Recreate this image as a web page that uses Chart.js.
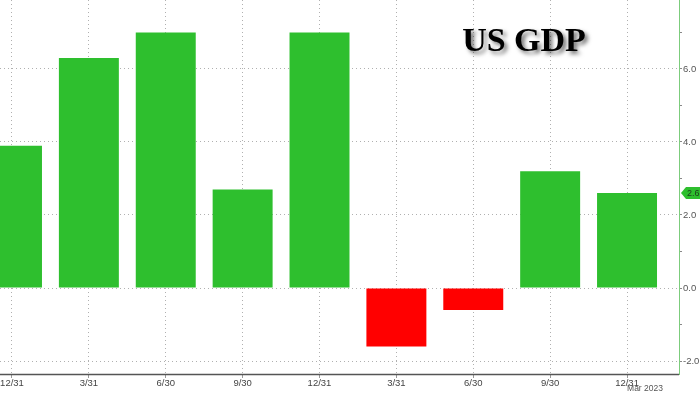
<!DOCTYPE html>
<html>
<head>
<meta charset="utf-8">
<script src="https://cdn.jsdelivr.net/npm/chart.js@4"></script>
<style>
  html, body { margin: 0; padding: 0; background: #fff; }
  #wrap { width: 700px; height: 394px; position: relative; }
</style>
</head>
<body>
<div id="wrap"><canvas id="gdpChart" width="700" height="394"></canvas></div>
<script>
// quarter end labels, Q4 2020 .. Q4 2022
var quarters = ['12/31', '3/31', '6/30', '9/30', '12/31', '3/31', '6/30', '9/30', '12/31'];
// annualized real GDP growth, %
var gdpGrowth = [3.9, 6.3, 7.0, 2.7, 7.0, -1.6, -0.6, 3.2, 2.6];
var yTicks = [-2, 0, 2, 4, 6];
var chartTitle = 'US GDP';
var dateNote = 'Mar 2023';

var green = 'rgb(46, 191, 46)';
var red = 'rgb(255, 0, 0)';

var points = [];
for (let i = 0; i < gdpGrowth.length; i++) {
    points.push({ x: i, y: gdpGrowth[i] });
}

var extras = {
    id: 'extras',
    afterDraw: function(chart) {
        const ctx = chart.ctx;
        const yScale = chart.scales.y;
        const area = chart.chartArea;
        ctx.save();
        // solid axis lines
        ctx.lineWidth = 1.5;
        ctx.strokeStyle = '#555';
        ctx.beginPath();
        ctx.moveTo(area.left, area.bottom + 0.5);
        ctx.lineTo(area.right, area.bottom + 0.5);
        ctx.stroke();
        ctx.lineWidth = 1;
        ctx.strokeStyle = '#7ccc7c';
        ctx.beginPath();
        ctx.moveTo(area.right + 0.5, area.top);
        ctx.lineTo(area.right + 0.5, area.bottom + 1);
        ctx.stroke();
        // last value tag on the right axis
        const last = gdpGrowth[gdpGrowth.length - 1];
        const ty = Math.round(yScale.getPixelForValue(last));
        const tx = area.right + 2;
        ctx.fillStyle = green;
        ctx.beginPath();
        ctx.moveTo(tx, ty);
        ctx.lineTo(tx + 5, ty - 6);
        ctx.lineTo(700, ty - 6);
        ctx.lineTo(700, ty + 6);
        ctx.lineTo(tx + 5, ty + 6);
        ctx.closePath();
        ctx.fill();
        ctx.fillStyle = '#1d3d1d';
        ctx.font = '9px "Liberation Sans"';
        ctx.textBaseline = 'middle';
        ctx.textAlign = 'left';
        ctx.fillText(last.toFixed(1), tx + 6, ty + 1);
        // date note under the axis
        ctx.fillStyle = '#555';
        ctx.font = '8.5px "Liberation Sans"';
        ctx.textAlign = 'center';
        ctx.fillText(dateNote, 645, 389);
        // title with shadow
        ctx.font = 'bold 34px "Liberation Serif"';
        ctx.textAlign = 'center';
        ctx.textBaseline = 'alphabetic';
        ctx.shadowColor = 'rgba(0,0,0,0.55)';
        ctx.shadowBlur = 4;
        ctx.shadowOffsetX = 3;
        ctx.shadowOffsetY = 3;
        ctx.fillStyle = '#000';
        ctx.fillText(chartTitle, 524, 51);
        ctx.restore();
    }
};

new Chart(document.getElementById('gdpChart'), {
    type: 'bar',
    data: {
        datasets: [{
            data: points,
            backgroundColor: function(c) {
                return c.raw && c.raw.y < 0 ? red : green;
            },
            borderWidth: 0,
            barPercentage: 0.78,
            categoryPercentage: 1
        }]
    },
    options: {
        responsive: false,
        devicePixelRatio: 1,
        animation: false,
        layout: { padding: 0 },
        plugins: {
            legend: { display: false },
            tooltip: { enabled: false }
        },
        scales: {
            x: {
                type: 'linear',
                min: -0.156,
                max: 8.676,
                offset: false,
                border: { display: false, dash: [1, 3] },
                grid: {
                    offset: false,
                    color: '#b0b0b0',
                    tickLength: 4,
                    tickColor: '#999'
                },
                ticks: {
                    stepSize: 1,
                    includeBounds: false,
                    autoSkip: false,
                    maxRotation: 0,
                    padding: 0,
                    color: '#444',
                    font: { family: 'Liberation Sans', size: 9.5 },
                    callback: function(v) { return quarters[v] !== undefined ? quarters[v] : ''; }
                },
                afterFit: function(s) {
                    s.height = 20;
                    s.paddingLeft = 0;
                    s.paddingRight = 0;
                }
            },
            y: {
                position: 'right',
                min: -2.356,
                max: 7.89,
                border: { display: false, dash: [1, 3] },
                grid: {
                    color: function(c) {
                        return yTicks.indexOf(c.tick.value) >= 0 ? '#b0b0b0' : 'rgba(0,0,0,0)';
                    },
                    tickLength: 3,
                    tickColor: '#888'
                },
                ticks: {
                    stepSize: 1,
                    includeBounds: false,
                    padding: 1,
                    color: '#555',
                    font: { family: 'Liberation Sans', size: 9.5 },
                    callback: function(v) { return yTicks.indexOf(v) >= 0 ? v.toFixed(1) : ''; }
                },
                afterFit: function(s) {
                    s.width = 21;
                    s.paddingTop = 0;
                    s.paddingBottom = 0;
                }
            }
        }
    },
    plugins: [extras]
});
</script>
</body>
</html>
